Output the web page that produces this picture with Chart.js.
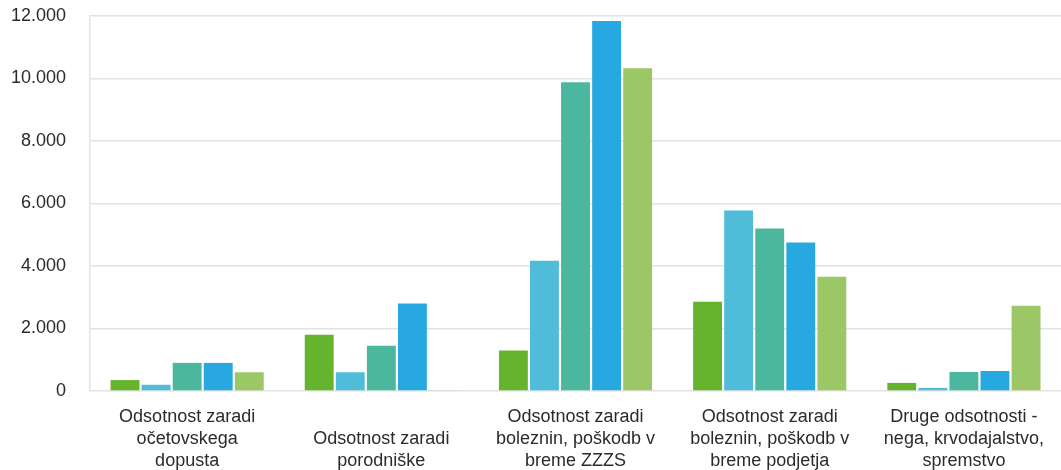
<!DOCTYPE html>
<html>
<head>
<meta charset="utf-8">
<script src="https://cdn.jsdelivr.net/npm/chart.js@4"></script>
<style>
  html, body { margin: 0; padding: 0; background: #ffffff; }
  #wrap { width: 1061px; height: 470px; position: relative; }
</style>
</head>
<body>
<div id="wrap"><canvas id="chart" width="1061" height="470"></canvas></div>
<script>
// Categories (axis labels, pre-wrapped into lines)
const categories = [
  ["Odsotnost zaradi", "očetovskega", "dopusta"],
  ["", "Odsotnost zaradi", "porodniške"],
  ["Odsotnost zaradi", "boleznin, poškodb v", "breme ZZZS"],
  ["Odsotnost zaradi", "boleznin, poškodb v", "breme podjetja"],
  ["Druge odsotnosti -", "nega, krvodajalstvo,", "spremstvo"]
];

// Five series, one value per category
const series1 = [350, 1800, 1300, 2860, 260];
const series2 = [200, 600, 4170, 5780, 100];
const series3 = [900, 1450, 9880, 5200, 610];
const series4 = [900, 2800, 11840, 4750, 640];
const series5 = [600, 20, 10330, 3660, 2730];

const seriesNames = ["Serija 1", "Serija 2", "Serija 3", "Serija 4", "Serija 5"];
const seriesColors = ["#66b32e", "#4fbcd9", "#4ab79e", "#27a8e0", "#9cc766"];

// Value axis ticks
const yTicks = [0, 2000, 4000, 6000, 8000, 10000, 12000];

const allSeries = [series1, series2, series3, series4, series5];
const datasets = allSeries.map((vals, i) => ({
  label: seriesNames[i],
  data: vals,
  backgroundColor: seriesColors[i],
  borderWidth: 0,
  categoryPercentage: 0.8,
  barPercentage: 0.93
}));

function formatThousands(v) {
  return String(v).replace(/\B(?=(\d{3})+(?!\d))/g, ".");
}

new Chart(document.getElementById("chart"), {
  type: "bar",
  data: { labels: categories, datasets: datasets },
  options: {
    responsive: false,
    animation: false,
    layout: { padding: { left: 11, right: 0, top: 16, bottom: -17 } },
    plugins: {
      legend: { display: false },
      tooltip: { enabled: false }
    },
    scales: {
      x: {
        grid: { display: false, drawTicks: false },
        border: { display: false },
        ticks: {
          autoSkip: false,
          maxRotation: 0,
          minRotation: 0,
          padding: 15,
          color: "#2b2b2b",
          font: { family: "'Liberation Sans', Arial, Helvetica, sans-serif", size: 18, lineHeight: 1.222 }
        }
      },
      y: {
        min: 0,
        max: 12000,
        afterBuildTicks: (axis) => { axis.ticks = yTicks.map(v => ({ value: v })); },
        grid: { color: "#e2e2e2", lineWidth: 1.5, drawTicks: true, tickLength: 24, tickColor: "rgba(0,0,0,0)" },
        border: { display: true, color: "#e2e2e2", width: 1.5 },
        ticks: {
          padding: 0,
          color: "#2b2b2b",
          font: { family: "'Liberation Sans', Arial, Helvetica, sans-serif", size: 18 },
          callback: (v) => formatThousands(v)
        }
      }
    }
  }
});
</script>
</body>
</html>
